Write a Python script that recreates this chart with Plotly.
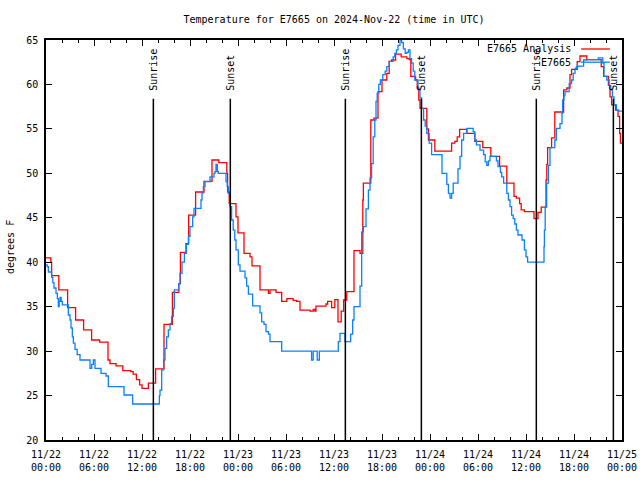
import pandas as pd
import plotly.graph_objects as go

BASE = pd.Timestamp("2024-11-22 00:00")

# E7665 Analysis (red) : hours since 11/22 00:00 UTC, degrees F
analysis_hours = [0, 0.6, 0.7, 1.6, 2.7, 3.7, 4.7, 5.7, 6.7, 7.75, 8.0, 8.75, 9.6, 10.6, 10.9, 11.3,
                  11.7, 12.0, 12.8, 13.7, 14.75, 15.8, 16.6, 16.8, 17.5, 17.83, 18.7, 19.75, 20.75,
                  21.6, 22.6, 22.7, 22.9, 23.75, 24.0, 24.75, 25.5, 25.75, 26.75, 27.8, 28.0, 28.75,
                  29.46, 30.1, 30.9, 31.33, 31.75, 33.0, 33.4, 33.6, 33.75, 35.0, 35.2, 35.7, 36.1,
                  36.5, 36.9, 37.2, 37.6, 38.5, 39.25, 39.6, 39.67, 40.6, 41.0, 41.5, 42.0, 42.6,
                  42.9, 43.2, 43.7, 44.4, 45.1, 45.4, 45.6, 46.2, 46.4, 46.6, 46.75, 47.6, 47.8,
                  48.6, 50.7, 51.1, 51.4, 51.7, 52.6, 53.6, 54.6, 55.6, 56.7, 57.6, 58.5, 58.8,
                  59.2, 59.4, 59.8, 61.0, 61.5, 61.9, 62.5, 62.6, 62.7, 63.2, 63.6, 64.7, 65.1,
                  65.5, 65.7, 66.4, 66.75, 67.6, 69.4, 69.7, 70.3, 70.5, 70.7, 71.2, 71.5, 71.7,
                  71.8, 72.0]
analysis_temp = [40.5, 40.0, 38.5, 36.9, 34.9, 33.5, 32.4, 31.25, 31.0, 29.0, 28.6, 28.35, 27.8, 27.7,
                 27.4, 26.8, 26.2, 25.8, 26.4, 28.0, 33.0, 36.6, 37.6, 41.1, 42.1, 45.3, 47.9, 49.1,
                 51.5, 51.2, 50.0, 47.9, 46.6, 45.1, 43.3, 41.0, 40.6, 39.6, 36.9, 36.5, 36.9, 36.6,
                 35.6, 35.9, 35.7, 35.6, 34.6, 34.5, 34.7, 34.5, 35.05, 35.3, 35.6, 34.9, 35.8,
                 33.3, 34.5, 35.75, 36.7, 41.3, 41.0, 47.0, 48.9, 56.0, 56.2, 59.2, 60.5, 61.25,
                 62.6, 62.75, 63.4, 63.1, 62.9, 62.8, 60.9, 60.5, 59.6, 58.25, 57.3, 55.0, 53.75,
                 52.5, 53.4, 53.6, 54.1, 54.95, 54.5, 53.6, 52.9, 51.9, 50.8, 48.9, 47.4, 47.2,
                 46.6, 45.9, 45.7, 44.9, 45.6, 46.2, 49.25, 51.0, 52.9, 54.0, 56.9, 59.4, 59.6,
                 61.1, 61.7, 62.56, 63.2, 62.8, 62.0, 60.9, 59.9, 58.6, 57.7, 57.1, 56.4, 54.5,
                 53.4, 53.4]

# E7665 observed (blue)
obs_hours = [0, 0.15, 0.29, 0.71, 0.85, 1.0, 1.25, 1.42, 1.54, 1.65, 1.75, 1.9, 2.04, 2.79, 3.0,
             3.125, 3.29, 3.42, 3.625, 3.9, 4.25, 5.5, 5.71, 5.92, 6.125, 6.875, 7.5, 7.79, 9.75,
             10.83, 14.17, 14.25, 14.46, 14.7, 14.875, 15.08, 15.29, 15.5, 15.7, 15.92, 16.04,
             16.6, 16.75, 17.0, 17.3, 17.55, 17.8, 18.0, 18.33, 18.5, 19.375, 19.5, 19.67,
             19.875, 20.5, 21.0, 21.125, 21.25, 21.42, 21.54, 22.5, 22.65, 22.8, 23.0, 23.2,
             23.4, 23.6, 23.75, 24.04, 24.25, 24.875, 25.08, 25.3, 25.83, 26.75, 26.96, 27.25,
             27.5, 27.8, 28.0, 29.46, 33.2, 33.4, 33.9, 34.17, 36.54, 36.75, 37.375, 38.08,
             38.33, 38.5, 39.25, 39.46, 39.67, 40.0, 40.3, 40.5, 40.7, 40.9, 41.1, 41.25, 41.4,
             41.6, 41.8, 42.1, 42.4, 42.6, 42.9, 43.4, 43.6, 43.8, 44.0, 44.25, 44.46, 44.67,
             44.9, 45.1, 45.3, 45.5, 45.7, 45.9, 46.1, 46.5, 46.75, 46.96, 47.2, 47.4, 47.6,
             47.9, 48.2, 49.5, 50.1, 50.3, 50.5, 50.7, 50.9, 51.5, 51.75, 51.96, 52.2, 52.6,
             53.4, 53.6, 53.8, 54.25, 54.7, 54.9, 55.1, 55.3, 55.5, 56.3, 56.5, 56.8, 56.96,
             57.2, 57.6, 57.8, 58.0, 58.2, 58.4, 58.6, 58.8, 59.0, 59.5, 59.8, 60.0, 60.2,
             62.25, 62.3, 62.4, 62.58, 62.8, 63.0, 63.6, 63.8, 64.25, 64.5, 64.58, 64.75,
             64.875, 65.3, 65.4, 65.7, 65.9, 66.125, 66.3, 66.6, 67.2, 67.6, 69.04, 69.6,
             69.75, 70.1, 70.4, 70.6, 70.8, 71.0, 71.3, 71.6, 72.0]
obs_temp = [39.7, 39.5, 38.9, 38.3, 37.7, 37.1, 36.5, 35.9, 35.0, 35.6, 36.05, 35.6, 35.2, 34.06,
            33.5, 32.6, 31.6, 30.9, 30.2, 29.6, 29.0, 28.06, 28.5, 29.0, 28.06, 27.5, 27.2, 26.0,
            25.06, 24.05, 25.0, 25.6, 27.9, 29.0, 30.3, 31.6, 32.4, 33.1, 33.9, 34.8, 36.9,
            37.6, 38.75, 40.0, 41.0, 42.0, 42.9, 44.0, 45.1, 46.06, 47.0, 47.8, 48.5, 49.06,
            49.6, 50.0, 50.2, 51.0, 50.2, 50.0, 49.06, 48.5, 47.75, 46.25, 44.75, 43.6, 42.5,
            41.4, 39.7, 39.0, 38.25, 37.3, 36.4, 35.1, 34.3, 33.3, 33.0, 32.2, 31.9, 31.06,
            30.0, 29.0, 30.0, 29.0, 30.0, 31.06, 32.0, 31.06, 31.9, 33.5, 35.0, 37.3, 43.4,
            44.0, 46.0, 48.1, 49.5, 51.1, 54.1, 56.0, 58.1, 59.0, 60.0, 60.5, 61.1, 61.5, 62.0,
            62.6, 63.1, 63.5, 63.9, 64.4, 65.0, 64.7, 64.0, 63.5, 63.6, 63.9, 62.9, 62.4, 61.5,
            60.5, 59.4, 58.5, 57.3, 56.0, 55.3, 54.5, 53.4, 52.1, 50.0, 48.75, 47.75, 47.2,
            47.75, 48.9, 50.5, 51.9, 53.75, 54.5, 55.06, 54.7, 53.75, 53.2, 52.6, 52.1, 51.3,
            50.9, 51.4, 51.9, 51.4, 50.75, 50.1, 49.6, 48.9, 47.75, 47.0, 46.25, 45.3, 44.9,
            44.3, 43.6, 43.06, 42.5, 41.4, 40.6, 40.0, 41.75, 43.6, 46.2, 48.9, 50.9, 52.9,
            53.75, 55.06, 55.6, 56.75, 58.25, 58.8, 59.2, 59.2, 60.1, 60.5, 61.25, 61.8, 62.0,
            62.06, 62.75, 62.8, 63.0, 62.4, 60.9, 60.5, 59.9, 59.4, 58.6, 57.7, 57.1, 57.0,
            57.0]

# Sunrise / sunset markers
sun_hours = [13.42, 23.04, 37.42, 46.92, 61.29, 70.92]
sun_labels = ["Sunrise", "Sunset", "Sunrise", "Sunset", "Sunrise", "Sunset"]

series_names = ["E7665 Analysis", "E7665"]
series_colors = ["#ff0000", "#0a80ff"]

FONT = "DejaVu Sans Mono"


def to_time(hours):
    return BASE + pd.to_timedelta(pd.Series(hours, dtype=float), unit="h")


fig = go.Figure()
for name, hrs, vals, col in [(series_names[0], analysis_hours, analysis_temp, series_colors[0]),
                             (series_names[1], obs_hours, obs_temp, series_colors[1])]:
    fig.add_trace(go.Scatter(x=to_time(hrs), y=vals, mode="lines", name=name,
                             line=dict(color=col, width=1.3, shape="hv"), showlegend=False))

sun_times = to_time(sun_hours)
for t, lab in zip(sun_times, sun_labels):
    fig.add_shape(type="line", xref="x", yref="y", x0=t, x1=t, y0=20, y1=58.4,
                  line=dict(color="black", width=1.5))
    fig.add_annotation(x=t, y=59.1, xref="x", yref="y", text=lab, textangle=-90,
                       showarrow=False, xanchor="center", yanchor="bottom",
                       font=dict(family=FONT, size=10, color="black"))

# legend drawn gnuplot-style: text then line sample
leg_y = [0.9775, 0.9445]
for name, col, ly in zip(series_names, series_colors, leg_y):
    fig.add_annotation(x=0.915, y=ly, xref="paper", yref="paper", text=name, showarrow=False,
                       xanchor="right", yanchor="middle",
                       font=dict(family=FONT, size=10, color="black"))
    fig.add_shape(type="line", xref="paper", yref="paper", x0=0.929, x1=0.979, y0=ly, y1=ly,
                  line=dict(color=col, width=1.3))

# y-axis title
fig.add_annotation(x=-0.0625, y=0.4825, xref="paper", yref="paper", text="degrees F",
                   textangle=-90, showarrow=False, xanchor="center", yanchor="middle",
                   font=dict(family=FONT, size=10, color="black"))

fig.update_layout(
    width=640, height=480,
    margin=dict(l=46, r=18, t=40, b=40, autoexpand=False),
    paper_bgcolor="white", plot_bgcolor="white",
    font=dict(family=FONT, size=10, color="black"),
    title=dict(text="Temperature for E7665 on 2024-Nov-22 (time in UTC)",
               x=0.5, xref="paper", xanchor="center", y=1 - 19 / 480, yanchor="middle",
               yref="container", automargin=False,
               font=dict(family=FONT, size=10, color="black")),
    showlegend=False,
)
fig.update_xaxes(
    type="date", automargin=False,
    range=[BASE, BASE + pd.Timedelta(hours=72)],
    tick0=BASE, dtick=6 * 3600 * 1000, tickformat="%m/%d<br>%H:%M",
    ticks="inside", ticklen=6, tickwidth=1, tickcolor="black", ticklabelstandoff=4,
    minor=dict(ticks="inside", ticklen=3, dtick=2 * 3600 * 1000, tickcolor="black", showgrid=False),
    showline=True, linecolor="black", linewidth=1.5, mirror="ticks",
    showgrid=False, zeroline=False,
    tickfont=dict(family=FONT, size=10, color="black"),
)
fig.update_yaxes(
    automargin=False,
    range=[20, 65], dtick=5, tick0=20,
    ticks="inside", ticklen=6, tickwidth=1, tickcolor="black", ticklabelstandoff=4,
    showline=True, linecolor="black", linewidth=1.5, mirror="ticks",
    showgrid=False, zeroline=False,
    tickfont=dict(family=FONT, size=10, color="black"),
)

fig.write_html("out.html", config={"displayModeBar": False},
               post_script="document.body.style.margin='0px';document.body.style.overflow='hidden';")
